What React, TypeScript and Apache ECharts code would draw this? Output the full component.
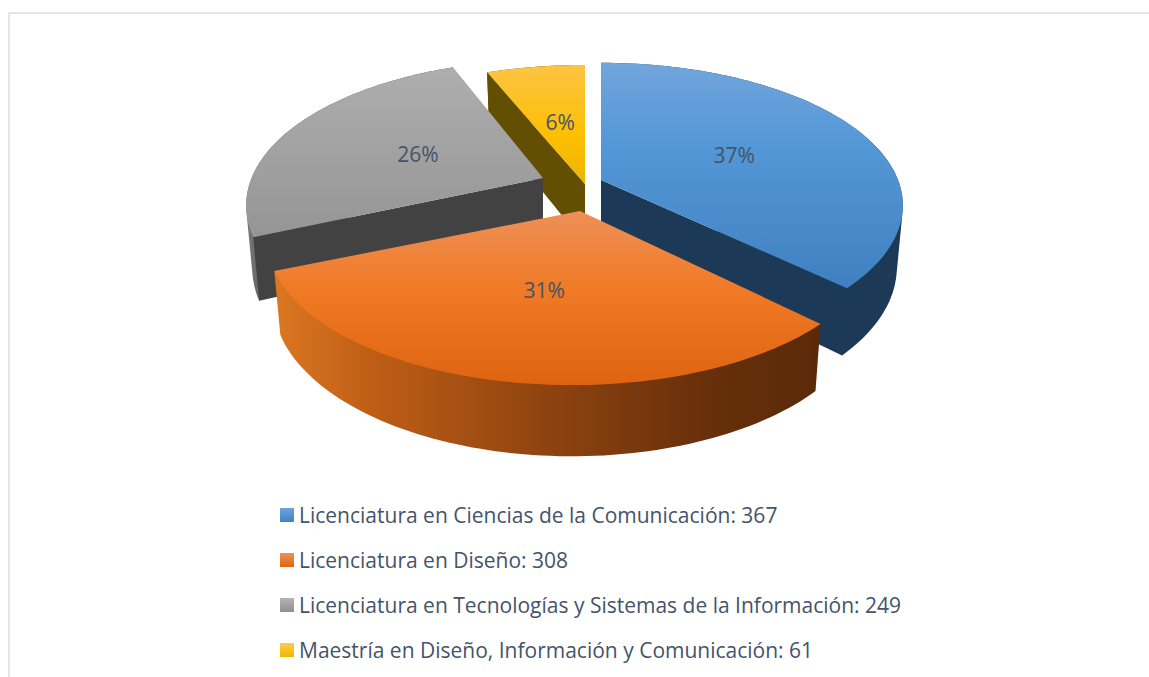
import React, { useEffect, useRef } from "react";
import * as echarts from "echarts";

const categories = [
  "Licenciatura en Ciencias de la Comunicación",
  "Licenciatura en Diseño",
  "Licenciatura en Tecnologías y Sistemas de la Información",
  "Maestría en Diseño, Información y Comunicación",
];
const values = [367, 308, 249, 61];
const percentLabels = ["37%", "31%", "26%", "6%"];

const WIDTH = 1149;
const HEIGHT = 677;
const TEXT = "#44546A";
const FONT = '"Open Sans", "Noto Sans", sans-serif';

// 3D projection of the pie disc
const RX = 296;
const RY = 140;
const PERSP = 0.196;
const DEPTH = 60;
const BOTTOM_SCALE = 0.98;

const grad = (x2: number, y2: number, stops: [number, string][]) =>
  new echarts.graphic.LinearGradient(
    0,
    0,
    x2,
    y2,
    stops.map(([offset, color]) => ({ offset, color }))
  );

// exploded apex of each slice, rim adjustment, and surface styles
const sliceStyles = [
  {
    apex: [601, 180],
    rimShift: [0, -2.5],
    rimScale: [1, 0.98],
    top: grad(0, 1, [[0, "#72A5DC"], [0.35, "#5598D8"], [1, "#3F80C0"]]),
    side: "#1C3A58",
    wall: "#1C3A58",
    legend: grad(0, 1, [[0, "#6FA3DB"], [1, "#3F83C4"]]),
  },
  {
    apex: [580, 211],
    rimShift: [-8, 0],
    rimScale: [1.01, 1],
    top: grad(0, 1, [[0, "#EE9058"], [0.45, "#F07A25"], [1, "#DE6410"]]),
    side: grad(1, 0, [[0, "#DC7722"], [0.18, "#BE5E16"], [0.5, "#8E4310"], [0.8, "#672F0B"], [1, "#5A2A08"]]),
    wall: "#5A2A08",
    legend: grad(0, 1, [[0, "#EE9058"], [1, "#E0650F"]]),
  },
  {
    apex: [543, 178],
    rimShift: [5, -1],
    rimScale: [1, 1],
    top: grad(0, 1, [[0, "#AEAEAE"], [1, "#959595"]]),
    side: grad(1, 0, [[0, "#7A7A7A"], [0.12, "#555555"], [1, "#444444"]]),
    wall: "#424242",
    legend: grad(0, 1, [[0, "#B4B4B4"], [1, "#8F8F8F"]]),
  },
  {
    apex: [585, 184],
    rimShift: [0, -2],
    rimScale: [1.03, 1],
    top: grad(0, 1, [[0, "#FCC444"], [0.6, "#FDBF00"], [1, "#E9B600"]]),
    side: "#634F02",
    wall: "#634F02",
    legend: grad(0, 1, [[0, "#FFCB4A"], [1, "#F0B800"]]),
  },
];

const total = values.reduce((a, b) => a + b, 0);
const legendName = (i: number) => `${categories[i]}: ${values[i]}`;

function project(angle: number, r: number) {
  const X = r * Math.sin(angle);
  const Y = r * Math.cos(angle);
  const w = 1 + PERSP * Y;
  return { sx: (RX * X) / w, sy: (-RY * Y) / w, w };
}

// outline of the extruded rim, so the silhouette between top and bottom is filled
function convexHull(points: number[][]) {
  const pts = points.slice().sort((p, q) => p[0] - q[0] || p[1] - q[1]);
  const cross = (o: number[], a: number[], b: number[]) =>
    (a[0] - o[0]) * (b[1] - o[1]) - (a[1] - o[1]) * (b[0] - o[0]);
  const lower: number[][] = [];
  for (const p of pts) {
    while (lower.length >= 2 && cross(lower[lower.length - 2], lower[lower.length - 1], p) <= 0) lower.pop();
    lower.push(p);
  }
  const upper: number[][] = [];
  for (const p of pts.slice().reverse()) {
    while (upper.length >= 2 && cross(upper[upper.length - 2], upper[upper.length - 1], p) <= 0) upper.pop();
    upper.push(p);
  }
  return [...lower.slice(0, -1), ...upper.slice(0, -1)];
}

function makeRenderItem(index: number) {
  const before = values.slice(0, index).reduce((a, b) => a + b, 0);
  const style = sliceStyles[index];
  return (_params: any, api: any) => {
    const value = api.value(0);
    const a0 = (before / total) * Math.PI * 2;
    const a1 = ((before + value) / total) * Math.PI * 2;
    const [ax, ay] = style.apex;
    const [shx, shy] = style.rimShift;
    const [scx, scy] = style.rimScale;
    const topPt = (a: number, r = 1) => {
      const p = project(a, r);
      return [ax + shx + p.sx * scx, ay + shy + p.sy * scy];
    };
    const botPt = (a: number, r = 1) => {
      const p = project(a, r);
      return [
        ax + shx + p.sx * scx * BOTTOM_SCALE,
        ay + shy + p.sy * scy * BOTTOM_SCALE + DEPTH / p.w,
      ];
    };
    const steps = 80;
    const arcAngles: number[] = [];
    for (let s = 0; s <= steps; s++) arcAngles.push(a0 + ((a1 - a0) * s) / steps);
    const topArc = arcAngles.map((a) => topPt(a));
    const botArc = arcAngles.map((a) => botPt(a));
    const wall = (a: number) => ({
      type: "polygon",
      shape: { points: [[ax, ay], topPt(a), botPt(a), [ax, ay + DEPTH]] },
      style: { fill: style.wall },
    });
    // a radial wall is seen only when it faces the viewer
    const facing = (a: number) => {
      const t = topPt(a);
      const b = botPt(a);
      return (t[0] - ax) * (b[1] - t[1]) - (t[1] - ay) * (b[0] - t[0]);
    };
    const mid = (a0 + a1) / 2;
    const lab = topPt(mid, 0.5);
    return {
      type: "group",
      children: [
        {
          type: "polygon",
          shape: { points: convexHull([...topArc, ...botArc]) },
          style: { fill: style.side },
        },
        ...(facing(a0) < 0 ? [wall(a0)] : []),
        ...(facing(a1) > 0 ? [wall(a1)] : []),
        {
          type: "polygon",
          shape: { points: [[ax, ay], ...topArc] },
          style: { fill: style.top },
        },
        {
          type: "text",
          x: lab[0] + 2,
          y: lab[1] + 3,
          style: {
            text: percentLabels[index],
            fill: TEXT,
            font: `21px ${FONT}`,
            align: "center",
            verticalAlign: "middle",
          },
        },
      ],
    };
  };
}

// painter's order: back slices first
const drawOrder = [3, 2, 0, 1];

export default function App() {
  const ref = useRef<HTMLDivElement>(null);
  useEffect(() => {
    document.body.style.margin = "0";
    const chart = echarts.init(ref.current!, undefined, { renderer: "svg" });
    chart.setOption({
      animation: false,
      backgroundColor: "#FFFFFF",
      legend: {
        orient: "vertical",
        left: 275,
        top: 498,
        itemWidth: 14,
        itemHeight: 14,
        itemGap: 21,
        selectedMode: false,
        data: categories.map((_, i) => ({
          name: legendName(i),
          icon: "rect",
          itemStyle: { color: sliceStyles[i].legend },
        })),
        textStyle: {
          color: TEXT,
          fontFamily: FONT,
          fontSize: 21,
          lineHeight: 24,
        },
      },
      graphic: [
        {
          type: "polyline",
          silent: true,
          shape: { points: [[9, HEIGHT], [9, 13], [WIDTH, 13]] },
          style: { stroke: "#E3E6E8", lineWidth: 2, fill: "none" },
        },
      ],
      series: drawOrder.map((i) => ({
        type: "custom",
        name: legendName(i),
        coordinateSystem: "none",
        silent: true,
        itemStyle: { color: sliceStyles[i].wall },
        data: [[values[i]]],
        renderItem: makeRenderItem(i),
      })),
    });
    return () => chart.dispose();
  }, []);
  return <div ref={ref} style={{ width: WIDTH, height: HEIGHT }} />;
}
